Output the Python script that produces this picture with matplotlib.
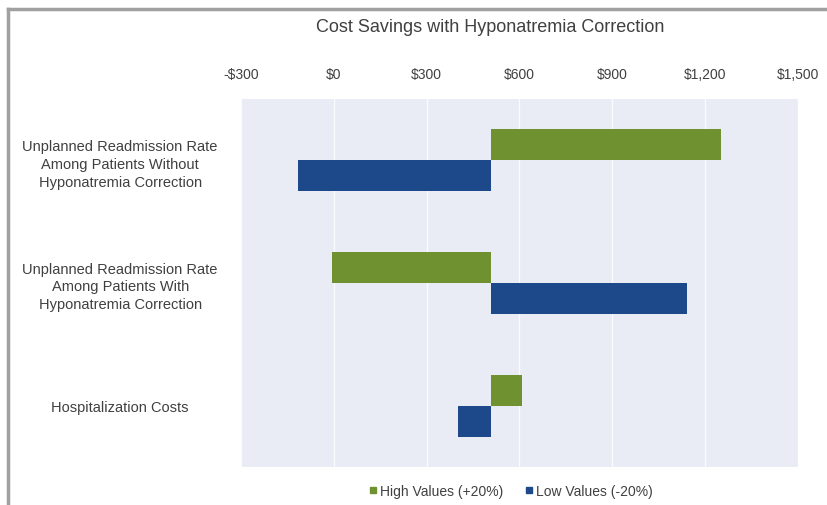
import matplotlib
matplotlib.use("Agg")
import matplotlib.pyplot as plt
from matplotlib.lines import Line2D
from matplotlib.ticker import FuncFormatter

plt.rcParams['font.family'] = ['Liberation Sans', 'DejaVu Sans']

categories = [
    "Unplanned Readmission Rate\nAmong Patients Without\nHyponatremia Correction",
    "Unplanned Readmission Rate\nAmong Patients With\nHyponatremia Correction",
    "Hospitalization Costs",
]
base_value = 507
high_values = [1252, -5, 608]   # High Values (+20%)
low_values = [-116, 1142, 401]  # Low Values (-20%)
xticks = [-300, 0, 300, 600, 900, 1200, 1500]

green = "#6f912f"
blue = "#1d4889"
bg = "#e9ecf5"
txt = "#404040"

fig = plt.figure(figsize=(8.27, 5.06), dpi=100)
ax = fig.add_axes([241/827, 1-468/506, (798-241)/827, (468-100)/506])
ax.set_facecolor(bg)

h = 0.253
for i in range(len(categories)):
    hv = high_values[i]
    lv = low_values[i]
    ax.barh(i - h/2, hv - base_value, left=base_value, height=h, color=green, zorder=3)
    ax.barh(i + h/2, lv - base_value, left=base_value, height=h, color=blue, zorder=3)

ax.set_xlim(-300, 1500)
ax.set_ylim(2.5, -0.5)
ax.set_xticks(xticks)
ax.xaxis.set_major_formatter(FuncFormatter(lambda v, p: ("-$" if v < 0 else "$") + f"{abs(int(v)):,}"))
ax.xaxis.tick_top()
ax.tick_params(axis='x', length=0, pad=13, labelsize=10, labelcolor=txt)
ax.set_yticks(range(len(categories)))
ax.set_yticklabels(categories, ha='center', multialignment='center', linespacing=1.35)
ax.tick_params(axis='y', length=0, pad=0, labelsize=10.5, labelcolor=txt)
for lab in ax.get_yticklabels():
    lab.set_x(-0.217)
ax.grid(axis='x', color='white', linewidth=1, alpha=0.8, zorder=1)
ax.grid(axis='y', visible=False)
for s in ax.spines.values():
    s.set_visible(False)

fig.text(490/827, 1-28/506, "Cost Savings with Hyponatremia Correction", ha='center', va='center',
         fontsize=13, color=txt)

handles = [Line2D([], [], marker='s', linestyle='none', color=green, markersize=4.5, label="High Values (+20%)"),
           Line2D([], [], marker='s', linestyle='none', color=blue, markersize=4.5, label="Low Values (-20%)")]
fig.legend(handles=handles, loc='center', bbox_to_anchor=(510/827, 1-492/506), ncol=2, frameon=False,
           fontsize=10, handletextpad=0.1, columnspacing=1.5, labelcolor=txt, handlelength=0.8)

# frame lines at top and left
fig.add_artist(Line2D([8/827, 1], [1-10/506, 1-10/506], color='#a0a0a0', linewidth=2.5, transform=fig.transFigure))
fig.add_artist(Line2D([8/827, 8/827], [0, 1-10/506], color='#a0a0a0', linewidth=2.5, transform=fig.transFigure))

fig.savefig("out.png", dpi=100)
